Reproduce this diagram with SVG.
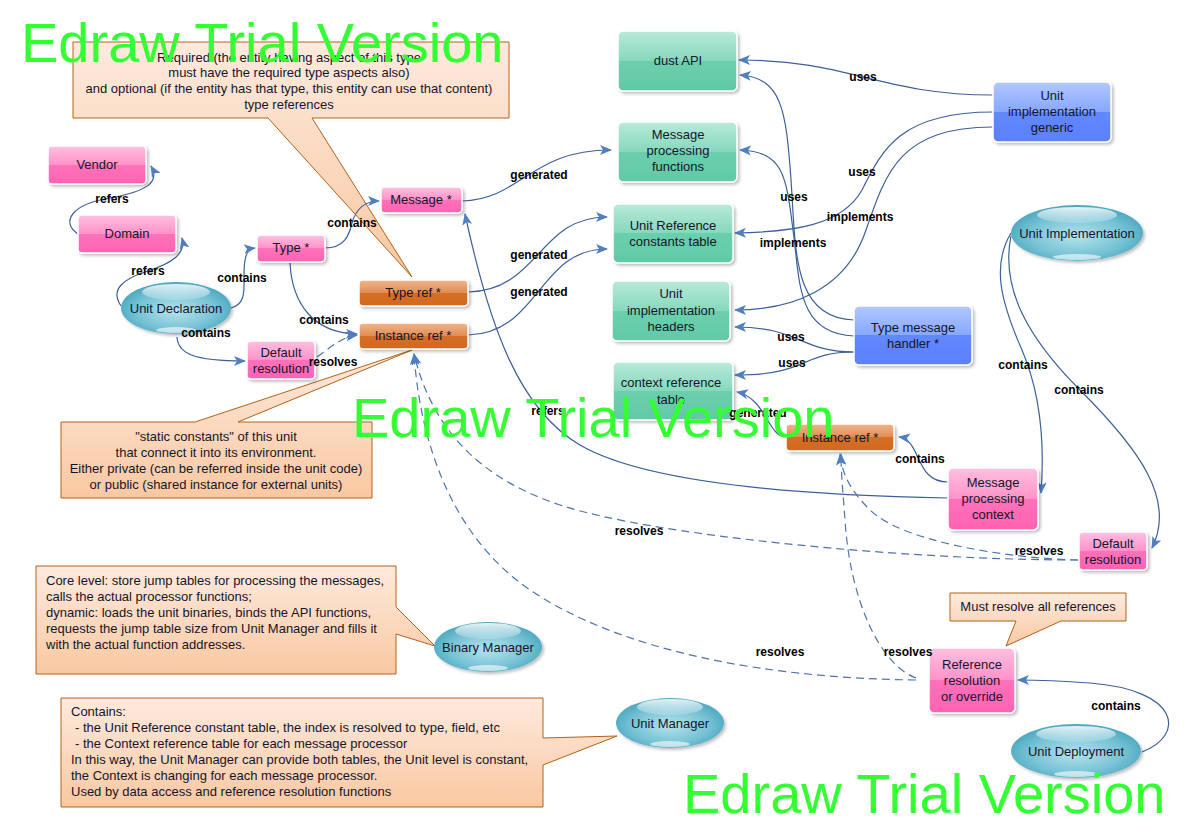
<svg xmlns="http://www.w3.org/2000/svg" width="1188" height="840" viewBox="0 0 1188 840">
<defs>
<linearGradient id="gPink" x1="0" y1="0" x2="0" y2="1"><stop offset="0" stop-color="#ffc0e0"/><stop offset="0.5" stop-color="#ff92c9"/><stop offset="0.5" stop-color="#ff72ba"/><stop offset="1" stop-color="#ff62b1"/></linearGradient>
<linearGradient id="gGreen" x1="0" y1="0" x2="0" y2="1"><stop offset="0" stop-color="#b8eadb"/><stop offset="0.5" stop-color="#86d8bb"/><stop offset="0.5" stop-color="#6bcfad"/><stop offset="1" stop-color="#62c9a6"/></linearGradient>
<linearGradient id="gOrange" x1="0" y1="0" x2="0" y2="1"><stop offset="0" stop-color="#f0b68c"/><stop offset="0.5" stop-color="#e08b52"/><stop offset="0.5" stop-color="#d56e26"/><stop offset="1" stop-color="#d2691e"/></linearGradient>
<linearGradient id="gBlue" x1="0" y1="0" x2="0" y2="1"><stop offset="0" stop-color="#b2c8ff"/><stop offset="0.5" stop-color="#87a7ff"/><stop offset="0.5" stop-color="#6189ff"/><stop offset="1" stop-color="#5a80fd"/></linearGradient>
<linearGradient id="gCall" x1="0" y1="0" x2="0" y2="1"><stop offset="0" stop-color="#fdeade"/><stop offset="1" stop-color="#f9c8a1"/></linearGradient>
<radialGradient id="gEll" cx="0.5" cy="0.55" r="0.6"><stop offset="0" stop-color="#b6e3ec"/><stop offset="0.6" stop-color="#76c2d5"/><stop offset="1" stop-color="#3f9fb9"/></radialGradient>
<linearGradient id="gHi" x1="0" y1="0" x2="0" y2="1"><stop offset="0" stop-color="#ffffff" stop-opacity="0.85"/><stop offset="1" stop-color="#ffffff" stop-opacity="0.15"/></linearGradient>
<filter id="sh" x="-20%" y="-20%" width="150%" height="160%"><feDropShadow dx="2" dy="2" stdDeviation="1.5" flood-color="#000" flood-opacity="0.25"/></filter>
<marker id="arr" viewBox="0 0 12 10" refX="11" refY="5" markerWidth="12" markerHeight="10" markerUnits="userSpaceOnUse" orient="auto"><path d="M0,0 L12,5 L0,10 L3,5 z" fill="#4f7fbf"/></marker>
<style>
.box{stroke:#ffffff;stroke-width:1.5;filter:url(#sh)}
.pink{fill:url(#gPink)}
.green{fill:url(#gGreen)}
.orange{fill:url(#gOrange)}
.blue{fill:url(#gBlue)}
.ell{fill:url(#gEll);filter:url(#sh)}
.hi{fill:url(#gHi)}
.hib{fill:#ffffff;fill-opacity:0.6}
.t{font-family:"Liberation Sans",Arial,sans-serif;font-size:13px;fill:#15152a;text-anchor:middle}
.ct{font-family:"Liberation Sans",Arial,sans-serif;font-size:13px;fill:#15152a}
.cc{font-family:"Liberation Sans",Arial,sans-serif;font-size:13px;fill:#15152a;text-anchor:middle}
.call{fill:url(#gCall);stroke:#b2621a;stroke-width:1}
.c{fill:none;stroke:#3d609a;stroke-width:1.2;marker-end:url(#arr)}
.d{fill:none;stroke:#4f74ad;stroke-width:1.2;stroke-dasharray:8,5;marker-end:url(#arr)}
.lb{font-family:"Liberation Sans",Arial,sans-serif;font-size:12px;font-weight:bold;fill:#000;text-anchor:middle}
.wm{font-family:"Liberation Sans",Arial,sans-serif;font-size:56px;fill:#33ff33}
</style>
</defs>
<rect width="1188" height="840" fill="#ffffff"/>

<g id="callouts">
<path class="call" d="M73,42 H509 V118 H312 L412,277 L268,118 H73 Z"/>
<text class="cc" x="289" y="62">Required (the entity having aspect of this type</text>
<text class="cc" x="289" y="77">must have the required type aspects also)</text>
<text class="cc" x="289" y="93">and optional (if the entity has that type, this entity can use that content)</text>
<text class="cc" x="289" y="109">type references</text>

<path class="call" d="M61,422 H195 L412,350 L238,422 H372 V498 H61 Z"/>
<text class="cc" x="216" y="441">"static constants" of this unit</text>
<text class="cc" x="216" y="457">that connect it into its environment.</text>
<text class="cc" x="216" y="473">Either private (can be referred inside the unit code)</text>
<text class="cc" x="216" y="489">or public (shared instance for external units)</text>

<path class="call" d="M36,566 H396 V607 L435,646 L396,634 V674 H36 Z"/>
<text class="ct" x="46" y="585">Core level: store jump tables for processing the messages,</text>
<text class="ct" x="46" y="601">calls the actual processor functions;</text>
<text class="ct" x="46" y="617">dynamic: loads the unit binaries, binds the API functions,</text>
<text class="ct" x="46" y="633">requests the jump table size from Unit Manager and fills it</text>
<text class="ct" x="46" y="649">with the actual function addresses.</text>

<path class="call" d="M61,698 H543 V738 L617,736 L543,765 V807 H61 Z"/>
<text class="ct" x="71" y="716">Contains:</text>
<text class="ct" x="75" y="732">- the Unit Reference constant table, the index is resolved to type, field, etc</text>
<text class="ct" x="75" y="748">- the Context reference table for each message processor</text>
<text class="ct" x="71" y="764">In this way, the Unit Manager can provide both tables, the Unit level is constant,</text>
<text class="ct" x="71" y="780">the Context is changing for each message processor.</text>
<text class="ct" x="71" y="796">Used by data access and reference resolution functions</text>

<path class="call" d="M950,593 H1126 V621 H1061 L1006,646 L1016,621 H950 Z"/>
<text class="cc" x="1038" y="611">Must resolve all references</text>
</g>

<g id="connectors">
<path class="c" d="M78,234 C60,222 72,204 110,198 C148,191 160,182 151,166"/>
<path class="c" d="M121,306 C110,290 122,279 148,271 C172,263 186,254 182,238"/>
<path class="c" d="M231,308 C246,304 244,290 244,276 C244,258 246,249 255,248"/>
<path class="c" d="M325,248 C344,248 349,236 352,223 C356,209 365,201 379,201"/>
<path class="c" d="M290,263 C292,302 312,333 357,334"/>
<path class="c" d="M177,337 C178,353 192,361 245,361"/>
<path class="d" d="M317,357 C330,348 341,337 357,335"/>
<path class="c" d="M462,201 C522,199 530,150 611,150"/>
<path class="c" d="M468,292 C540,290 538,217 607,217"/>
<path class="c" d="M468,335 C540,333 538,249 607,249"/>
<path class="c" d="M993,95 C880,95 850,60 739,60"/>
<path class="c" d="M993,112 C900,112 882,150 862,190 C842,226 792,232 735,233"/>
<path class="c" d="M993,127 C900,127 886,172 866,230 C846,290 792,310 735,310"/>
<path class="c" d="M854,320 C792,318 796,250 791,180 C786,110 782,78 740,75"/>
<path class="c" d="M854,336 C796,334 800,280 793,230 C786,172 782,152 740,150"/>
<path class="c" d="M854,352 C800,352 800,327 735,327"/>
<path class="c" d="M854,352 C800,352 810,375 735,375"/>
<path class="c" d="M786,437 C768,437 766,398 737,392"/>
<path class="c" d="M948,482 C914,482 922,440 899,437"/>
<path class="c" d="M1011,233 C992,265 1000,300 1022,350 C1040,392 1045,440 1041,493"/>
<path class="c" d="M1011,236 C1000,290 1030,340 1080,390 C1140,450 1176,500 1152,548"/>
<path class="c" d="M948,498 C780,495 640,480 580,445 C520,410 490,330 465,214"/>
<path class="d" d="M916,680 C760,678 620,650 530,590 C450,535 420,440 414,354"/>
<path class="d" d="M1078,560 C900,560 650,535 560,505 C470,475 430,420 414,354"/>
<path class="d" d="M1078,560 C1000,558 900,540 870,510 C846,486 842,470 840,454"/>
<path class="d" d="M916,678 C880,665 850,600 845,520 C842,480 841,470 841,454"/>
<path class="c" d="M1142,752 C1186,735 1180,690 1090,683 C1050,680 1032,680 1018,680"/>
</g>

<g id="n-vendor"><rect class="box pink" x="48" y="146" width="98" height="38" rx="4"/><text class="t" x="97" y="169">Vendor</text></g>
<g id="n-domain"><rect class="box pink" x="78" y="215" width="98" height="38" rx="4"/><text class="t" x="127" y="238">Domain</text></g>
<g id="n-type"><rect class="box pink" x="257" y="235" width="68" height="27" rx="4"/><text class="t" x="291" y="252">Type *</text></g>
<g id="n-message"><rect class="box pink" x="381" y="187" width="81" height="26" rx="4"/><text class="t" x="421" y="204">Message *</text></g>
<g id="n-typeref"><rect class="box orange" x="359" y="280" width="109" height="26" rx="4"/><text class="t" x="413" y="297">Type ref *</text></g>
<g id="n-instref1"><rect class="box orange" x="359" y="323" width="109" height="26" rx="4"/><text class="t" x="413" y="340">Instance ref *</text></g>
<g id="n-defres1"><rect class="box pink" x="247" y="341" width="68" height="38" rx="4"/><text class="t" x="281" y="357">Default</text><text class="t" x="281" y="373">resolution</text></g>
<g id="n-unitdecl"><ellipse class="ell" cx="176" cy="308" rx="55" ry="26"/><ellipse class="hi" cx="176" cy="292" rx="34" ry="8"/><ellipse class="hib" cx="176" cy="330" rx="20" ry="3"/><text class="t" x="176" y="313">Unit Declaration</text></g>

<g id="n-dustapi"><rect class="box green" x="618" y="31" width="119" height="60" rx="5"/><text class="t" x="678" y="65">dust API</text></g>
<g id="n-mpf"><rect class="box green" x="618" y="122" width="119" height="60" rx="5"/><text class="t" x="678" y="139">Message</text><text class="t" x="678" y="155">processing</text><text class="t" x="678" y="171">functions</text></g>
<g id="n-urct"><rect class="box green" x="613" y="204" width="120" height="59" rx="5"/><text class="t" x="673" y="230">Unit Reference</text><text class="t" x="673" y="246">constants table</text></g>
<g id="n-uih"><rect class="box green" x="612" y="281" width="118" height="60" rx="5"/><text class="t" x="671" y="298">Unit</text><text class="t" x="671" y="315">implementation</text><text class="t" x="671" y="331">headers</text></g>
<g id="n-crt"><rect class="box green" x="613" y="362" width="120" height="58" rx="5"/><text class="t" x="671" y="387">context reference</text><text class="t" x="671" y="404">table</text></g>

<g id="n-generic"><rect class="box blue" x="993" y="82" width="118" height="60" rx="5"/><text class="t" x="1052" y="100">Unit</text><text class="t" x="1052" y="116">implementation</text><text class="t" x="1052" y="132">generic</text></g>
<g id="n-handler"><rect class="box blue" x="854" y="306" width="118" height="59" rx="5"/><text class="t" x="913" y="332">Type message</text><text class="t" x="913" y="348">handler *</text></g>
<g id="n-unitimpl"><ellipse class="ell" cx="1077" cy="233" rx="66" ry="28"/><ellipse class="hi" cx="1077" cy="215" rx="40" ry="8"/><ellipse class="hib" cx="1077" cy="257" rx="24" ry="3"/><text class="t" x="1077" y="238">Unit Implementation</text></g>
<g id="n-instref2"><rect class="box orange" x="786" y="424" width="108" height="27" rx="4"/><text class="t" x="840" y="442">Instance ref *</text></g>
<g id="n-mpc"><rect class="box pink" x="948" y="468" width="90" height="62" rx="5"/><text class="t" x="993" y="487">Message</text><text class="t" x="993" y="503">processing</text><text class="t" x="993" y="519">context</text></g>
<g id="n-defres2"><rect class="box pink" x="1079" y="532" width="68" height="38" rx="4"/><text class="t" x="1113" y="548">Default</text><text class="t" x="1113" y="564">resolution</text></g>
<g id="n-refres"><rect class="box pink" x="929" y="648" width="86" height="65" rx="5"/><text class="t" x="972" y="669">Reference</text><text class="t" x="972" y="685">resolution</text><text class="t" x="972" y="701">or override</text></g>
<g id="n-unitdep"><ellipse class="ell" cx="1076" cy="751" rx="65" ry="27"/><ellipse class="hi" cx="1076" cy="734" rx="40" ry="8"/><ellipse class="hib" cx="1076" cy="774" rx="22" ry="3"/><text class="t" x="1076" y="756">Unit Deployment</text></g>
<g id="n-binmgr"><ellipse class="ell" cx="488" cy="647" rx="54" ry="25"/><ellipse class="hi" cx="488" cy="631" rx="33" ry="8"/><ellipse class="hib" cx="488" cy="668" rx="20" ry="3"/><text class="t" x="488" y="652">Binary Manager</text></g>
<g id="n-unitmgr"><ellipse class="ell" cx="670" cy="723" rx="54" ry="25"/><ellipse class="hi" cx="670" cy="707" rx="33" ry="8"/><ellipse class="hib" cx="670" cy="744" rx="20" ry="3"/><text class="t" x="670" y="728">Unit Manager</text></g>

<g id="labels">
<text class="lb" x="112" y="203">refers</text>
<text class="lb" x="148" y="275">refers</text>
<text class="lb" x="242" y="282">contains</text>
<text class="lb" x="352" y="227">contains</text>
<text class="lb" x="324" y="324">contains</text>
<text class="lb" x="206" y="337">contains</text>
<text class="lb" x="333" y="366">resolves</text>
<text class="lb" x="539" y="179">generated</text>
<text class="lb" x="539" y="259">generated</text>
<text class="lb" x="539" y="296">generated</text>
<text class="lb" x="863" y="81">uses</text>
<text class="lb" x="862" y="176">uses</text>
<text class="lb" x="794" y="201">uses</text>
<text class="lb" x="860" y="221">implements</text>
<text class="lb" x="793" y="247">implements</text>
<text class="lb" x="791" y="341">uses</text>
<text class="lb" x="792" y="367">uses</text>
<text class="lb" x="758" y="417">generated</text>
<text class="lb" x="548" y="415">refers</text>
<text class="lb" x="920" y="463">contains</text>
<text class="lb" x="1023" y="369">contains</text>
<text class="lb" x="1079" y="394">contains</text>
<text class="lb" x="639" y="535">resolves</text>
<text class="lb" x="1039" y="555">resolves</text>
<text class="lb" x="780" y="656">resolves</text>
<text class="lb" x="908" y="656">resolves</text>
<text class="lb" x="1116" y="710">contains</text>
</g>

<g id="watermarks">
<text class="wm" x="21" y="62">Edraw Trial Version</text>
<text class="wm" x="352" y="437">Edraw Trial Version</text>
<text class="wm" x="683" y="813">Edraw Trial Version</text>
</g>
</svg>
